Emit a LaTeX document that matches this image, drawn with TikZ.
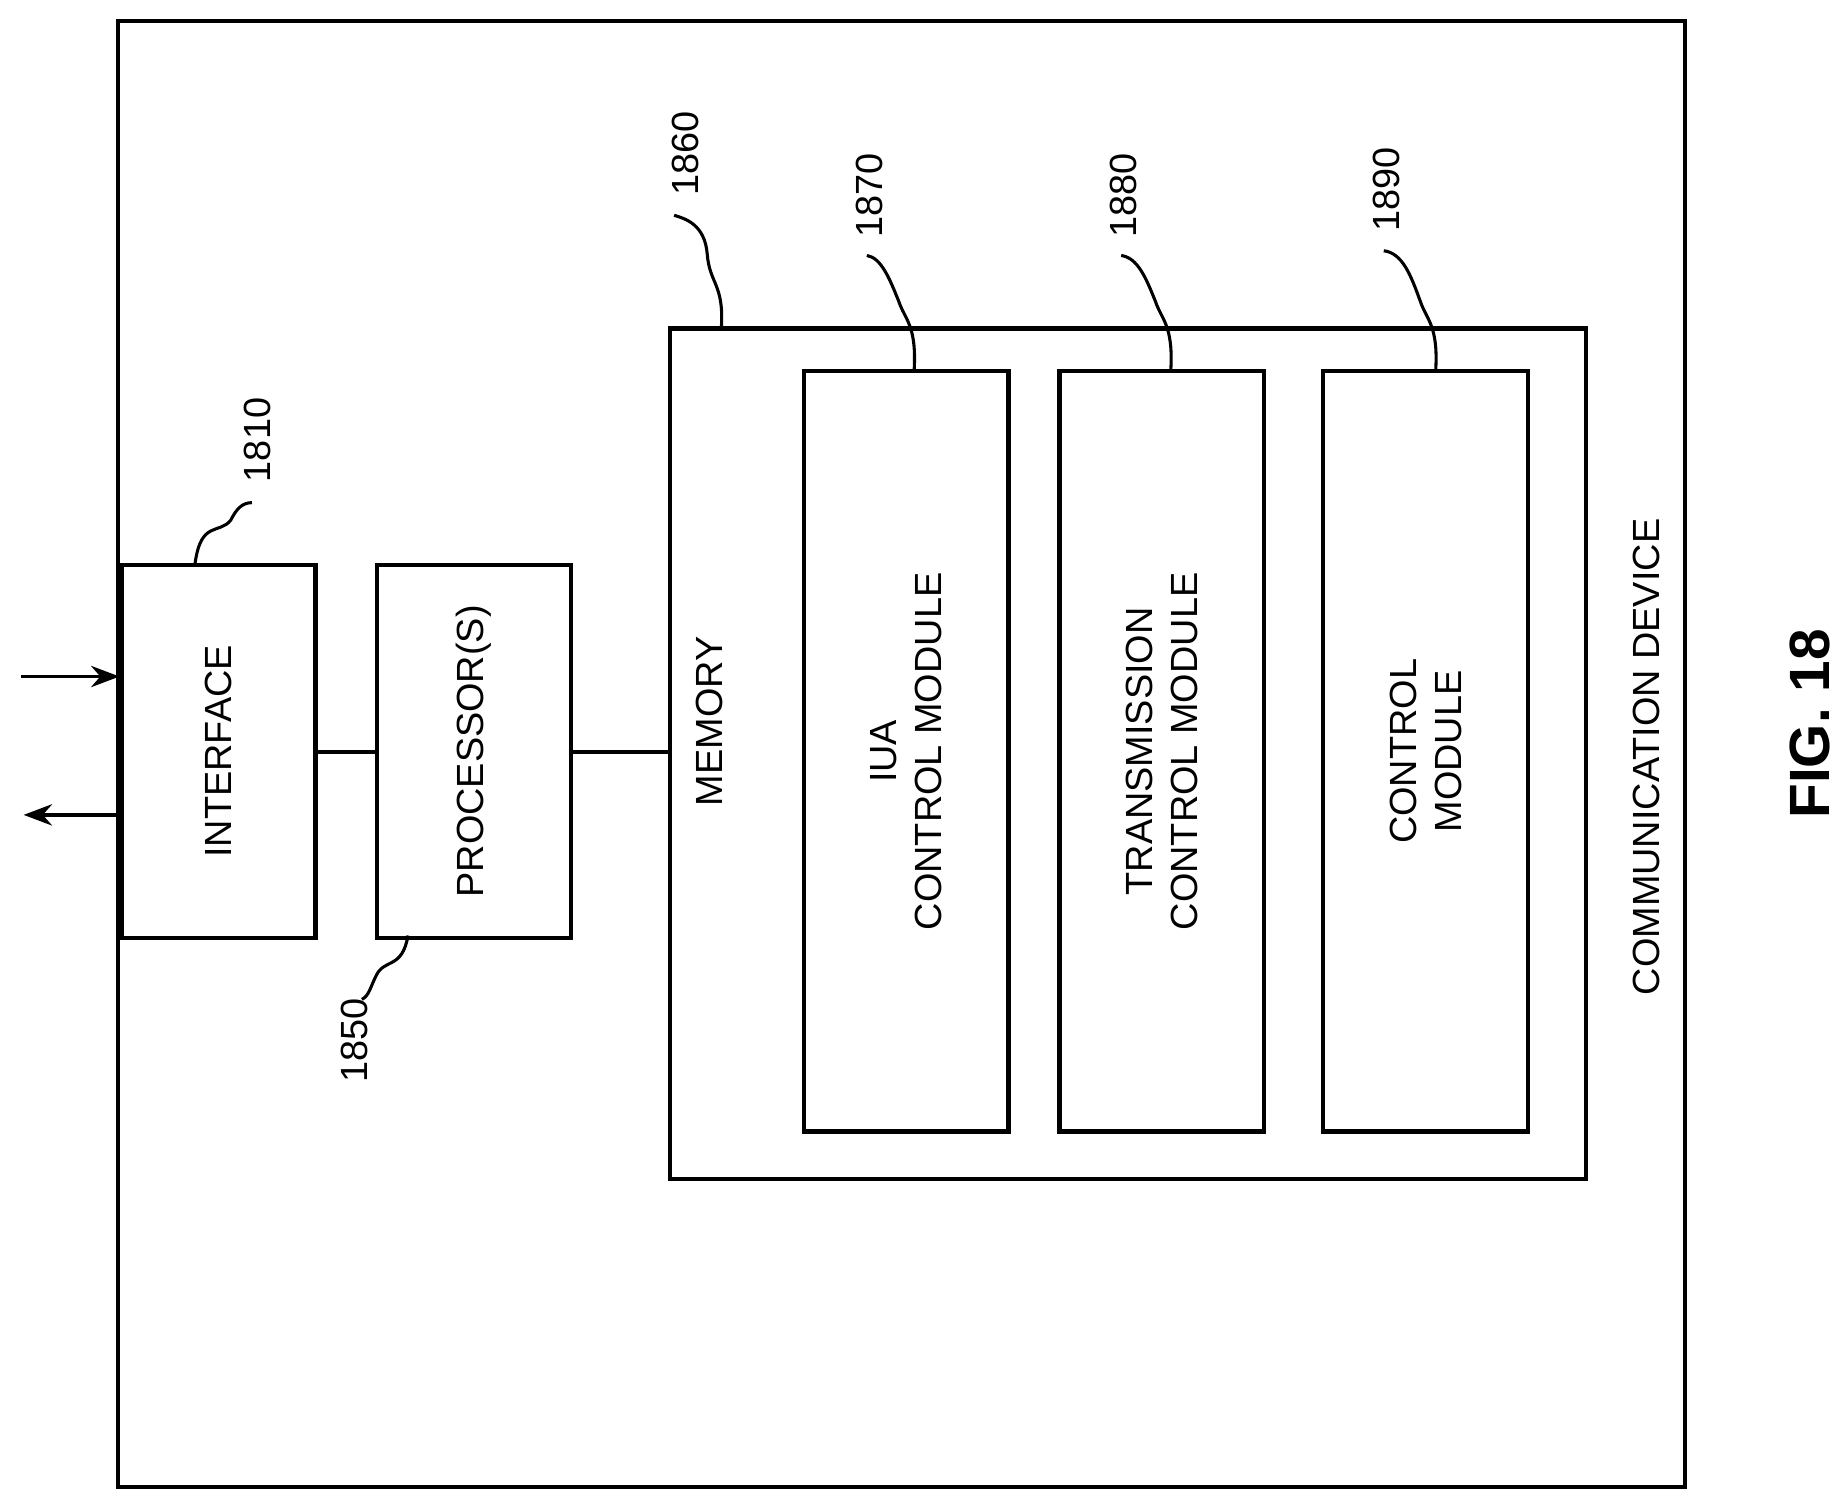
\documentclass[tikz,border=0pt]{standalone}
\usepackage{fontspec}
\setmainfont{Liberation Sans}
\usetikzlibrary{arrows.meta}
\begin{document}
\begin{tikzpicture}[x=0.5pt,y=-0.5pt,line width=1.5pt,
  box/.style={draw,line width=1.8pt},
  lbl/.style={rotate=90,font=\fontsize{16}{19}\selectfont,align=center},
  num/.style={rotate=90,font=\fontsize{16}{19}\selectfont},
  lead/.style={line width=1.3pt}]
\useasboundingbox (0,0) rectangle (1560,1271);
\draw[box] (100,18) rectangle (1425,1257);
\node[box,minimum width=164*0.5pt,minimum height=315*0.5pt,inner sep=0,anchor=north west] (if) at (101,476) {};
\node[lbl] at (if.center) {INTERFACE};
\node[box,minimum width=164*0.5pt,minimum height=315*0.5pt,inner sep=0,anchor=north west] (pr) at (317,476) {};
\node[lbl] at (pr.center) {PROCESSOR(S)};
\node[box,minimum width=774*0.5pt,minimum height=719*0.5pt,inner sep=0,anchor=north west] (mem) at (565,276) {};
\node[lbl] at (600,610) {MEMORY};
\node[box,minimum width=173*0.5pt,minimum height=643*0.5pt,inner sep=0,anchor=north west] (iua) at (678,312) {};
\node[lbl] at (iua.center) {IUA\\CONTROL MODULE};
\node[box,minimum width=173*0.5pt,minimum height=643*0.5pt,inner sep=0,anchor=north west] (tx) at (894,312) {};
\node[lbl] at (tx.center) {TRANSMISSION\\CONTROL MODULE};
\node[box,minimum width=173*0.5pt,minimum height=643*0.5pt,inner sep=0,anchor=north west] (cm) at (1117,312) {};
\node[lbl] at (cm.center) {CONTROL\\MODULE};
\node[lbl] (cd) at (1392,640) {COMMUNICATION DEVICE};
\node[rotate=90,font=\bfseries\fontsize{24}{28}\selectfont] (fig) at (1530,612) {FIG. 18};
\draw (if.east |- 0,636) -- (pr.west |- 0,636);
\draw (pr.east |- 0,636) -- (mem.west |- 0,636);
\coordinate (ain) at (18,572);
\coordinate (aout) at (20,689);
\draw[-{Stealth[length=12pt,width=9pt]}] (ain) -- (ain -| if.west);
\draw[-{Stealth[length=12pt,width=9pt]}] (aout -| if.west) -- (aout);
% leaders
\node[num] (n1810) at (218,372) {1810};
\draw[lead] (165,476) .. controls (170,440) and (185,452) .. (195,440) .. controls (200,430) and (205,425) .. (213,425);
\node[num] (n1850) at (300,880) {1850};
\draw[lead] (345,791) .. controls (340,820) and (325,810) .. (318,825) .. controls (313,835) and (312,842) .. (306,845);
\node[num] (n1860) at (580,130) {1860};
\draw[lead] (610,276) .. controls (612,240) and (600,240) .. (598,215) .. controls (596,190) and (580,185) .. (570,182);
\node[num] (n1870) at (735,165) {1870};
\draw[lead] (773,312) .. controls (775,275) and (765,270) .. (760,255) .. controls (752,235) and (745,218) .. (733,216);
\node[num] (n1880) at (950,165) {1880};
\draw[lead] (990,312) .. controls (992,275) and (982,270) .. (977,255) .. controls (969,235) and (962,218) .. (948,216);
\node[num] (n1890) at (1172,160) {1890};
\draw[lead] (1214,312) .. controls (1216,275) and (1206,270) .. (1201,255) .. controls (1193,233) and (1186,214) .. (1170,212);
\end{tikzpicture}
\end{document}
